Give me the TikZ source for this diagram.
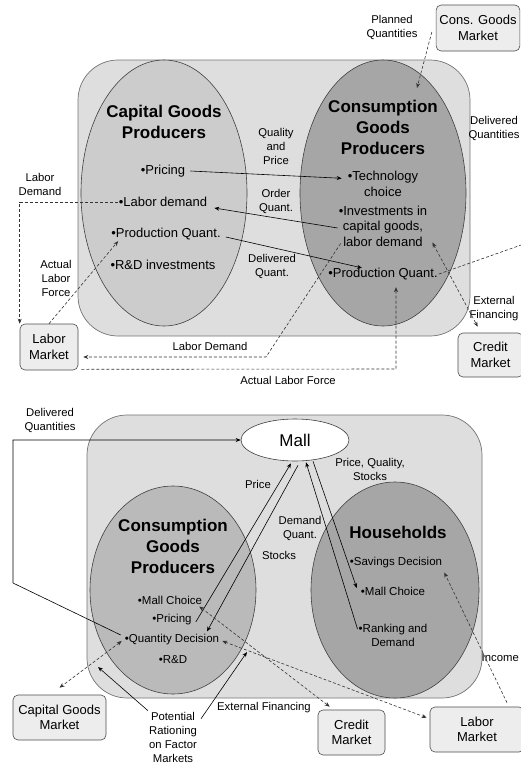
\documentclass[tikz,border=0pt]{standalone}
\usepackage{fontspec}
\setmainfont{Liberation Sans}
\usetikzlibrary{arrows.meta,calc,shapes.geometric}
\definecolor{panelgray}{gray}{0.87}
\definecolor{lightsector}{gray}{0.80}
\definecolor{midsector}{gray}{0.73}
\definecolor{darksector}{gray}{0.65}
\definecolor{boxgray}{gray}{0.93}
\tikzset{
    >={Stealth[length=5pt,width=4pt]},
    econ/.style={
        panel/.append style={draw=black!55,fill=panelgray,rounded corners=40pt,line width=0.7pt},
        sector/.append style={draw=black!75,ellipse,inner sep=0pt,line width=0.6pt},
        market/.append style={align=center,draw=black!70,fill=boxgray,rounded corners=5pt,line width=0.6pt,font=\fontsize{13}{15.5}\selectfont},
        title/.append style={align=center,font=\fontsize{17}{21}\selectfont\bfseries},
        item/.append style={align=center,inner sep=1pt,font=\fontsize{13}{15.5}\selectfont},
        small/.append style={align=center,inner sep=1pt,font=\fontsize{11.5}{14}\selectfont},
        lab/.append style={align=center,inner sep=1pt,font=\fontsize{11.3}{14}\selectfont},
        flow/.append style={draw,line width=0.6pt,->},
        info/.append style={draw=black!80,line width=0.6pt,dash pattern=on 3pt off 2pt}
    }
}

\begin{document}
\begin{tikzpicture}[econ,x=1pt,y=-1pt]
    \useasboundingbox (0,0) rectangle (521,764);

    \node[panel,minimum width=392,minimum height=276] (tp) at (274,198) {};
    \node[sector,fill=lightsector,minimum width=166,minimum height=266] (cap) at (164,193) {};
    \node[sector,fill=darksector,minimum width=166,minimum height=266] (con) at (383,193) {};
    \node[title] (capt) at (164,122) {Capital Goods\\Producers};
    \node[title] (cont) at (383,127) {Consumption\\Goods\\Producers};

    \node[item] (cpr) at (163,171) {•Pricing};
    \node[item] (cld) at (163,202) {•Labor demand};
    \node[item] (cpq) at (166,234) {•Production Quant.};
    \node[item] (crd) at (163,265) {•R\&D investments};
    \node[item] (tch) at (383,184) {•Technology\\choice};
    \node[item] (inv) at (383,226) {•Investments in\\capital goods,\\labor demand};
    \node[item] (cpq2) at (383,274) {•Production Quant.};

    \node[lab] (qp) at (276,146) {Quality\\and\\Price};
    \node[lab] (oq) at (276,201) {Order\\Quant.};
    \node[lab] (dq) at (272,266) {Delivered\\Quant.};
    \node[lab] (pq) at (392,27) {Planned\\Quantities};
    \node[lab] (dlq) at (494,128) {Delivered\\Quantities};
    \node[lab] (ldm) at (40,184) {Labor\\Demand};
    \node[lab] (alf) at (56,278) {Actual\\Labor\\Force};
    \node[lab] (ld2) at (210,346) {Labor Demand};
    \node[lab] (alf2) at (288,380) {Actual Labor Force};
    \node[lab] (ef) at (494,309) {External\\Financing};

    \node[market,minimum width=82,minimum height=46] (cgm) at (478,28) {Cons. Goods\\Market};
    \node[market,minimum width=58,minimum height=46] (lm) at (49,347) {Labor\\Market};
    \node[market,minimum width=65,minimum height=44] (cm) at (490.5,355) {Credit\\Market};

    \coordinate (pqe) at (417,88);
    \coordinate (dle) at (524,244);
    \coordinate (ldc) at (266,357);
    \coordinate (alc) at (396,369);

    \draw[flow] ($(cpr.east)+(4,0)$) -- ($(tch.north west)+(-5,8)$);
    \draw[flow] ($(inv.west)+(0,2)$) -- ($(cld.east)+(6,6)$);
    \draw[flow] ($(cpq.east)+(4,3)$) -- ($(cpq2.north)+(-21,1)$);
    \draw[info,->] ($(cgm.west)+(-4,4)$) -- (pqe);
    \draw[info] (cpq2.east) -- (dle);
    \draw[info,<->] ($(inv.south east)+(4,-5)$) -- ($(cm.north west)+(20,-6)$);
    \draw[info,->] (cld.west) -| (lm.north west);
    \draw[info,->] (lm.north) -- ($(cpq.south west)+(8,0)$);
    \draw[info,->,shorten >=5pt] ($(inv.south west)+(3,-4)$) -- (ldc) -- (lm.east |- ldc);
    \draw[info,->] ($(lm.south east)+(3,-1)$) -- (alc) -- ($(alc |- cpq2.south)+(0,6)$);

    \node[panel,minimum width=395,minimum height=283] (bp) at (284.5,556.5) {};
    \node[sector,fill=midsector,minimum width=166,minimum height=208] (cpb) at (173,590) {};
    \node[sector,fill=darksector,minimum width=168,minimum height=216] (hh) at (395,590) {};
    \node[sector,fill=white,minimum width=108,minimum height=42,font=\fontsize{17}{20}\selectfont] (mall) at (295,440) {Mall};
    \node[title] (cpbt) at (173,546) {Consumption\\Goods\\Producers};
    \node[title] (hht) at (398,532) {Households};

    \node[small] (mc) at (170,600) {•Mall Choice};
    \node[small] (pr) at (172,620) {•Pricing};
    \node[small] (qd) at (172,640) {•Quantity Decision};
    \node[small] (rd) at (173,660) {•R\&D};
    \node[small] (sd) at (396,563) {•Savings Decision};
    \node[small] (hmc) at (393,591) {•Mall Choice};
    \node[small] (rk) at (393,635) {•Ranking and\\Demand};

    \node[lab] (dqb) at (50,420) {Delivered\\Quantities};
    \node[lab] (pl) at (258,484) {Price};
    \node[lab] (st) at (279,555) {Stocks};
    \node[lab] (dmq) at (300,528) {Demand\\Quant.};
    \node[lab] (pqs) at (370,469) {Price, Quality,\\Stocks};
    \node[lab] (efb) at (264,708) {External Financing};
    \node[lab,anchor=east] (inc) at (520,658) {Income};
    \node[lab] (rat) at (173,737) {Potential\\Rationing\\on Factor\\Markets};

    \node[market,minimum width=93,minimum height=45] (cgmb) at (59.5,717.5) {Capital Goods\\Market};
    \node[market,minimum width=67,minimum height=45] (cmb) at (351.5,732.5) {Credit\\Market};
    \node[market,minimum width=94,minimum height=45] (lmb) at (477,729.5) {Labor\\Market};

    \coordinate (dqc) at (13,583);
    \coordinate (rl) at (98,667);
    \coordinate (rr) at (247,652);

    \draw[flow] ($(qd.west)+(-3,-5)$) -- (dqc) |- (mall.west);
    \draw[flow] ($(pr.east)+(3,2)$) -- ($(mall.south)+(-4,2)$);
    \draw[flow] ($(mall.south)+(3,4)$) -- ($(qd.north)+(35,-2)$);
    \draw[flow] ($(rk.west)+(0,-6)$) -- ($(mall.south)+(11,1)$);
    \draw[flow] ($(mall.south)+(18,0)$) -- ($(hmc.west)+(-3,-3)$);
    \draw[info,<->] ($(qd.west)+(-2,1)$) -- ($(cgmb.north)+(0,-7)$);
    \draw[info,<->] ($(mc.south east)+(-4,1)$) -- ($(cmb.north west)+(12,-3)$);
    \draw[info,<->] ($(qd.east)+(2,1)$) -- ($(lmb.north west)+(-3,11)$);
    \draw[info,->] ($(lmb.north)+(30,-4)$) -- ($(sd.south east)+(1,3)$);
    \draw[flow] (rat.north west) -- (rl);
    \draw[flow] ($(rat.north east)+(3,8)$) -- (rr);
\end{tikzpicture}
\end{document}
